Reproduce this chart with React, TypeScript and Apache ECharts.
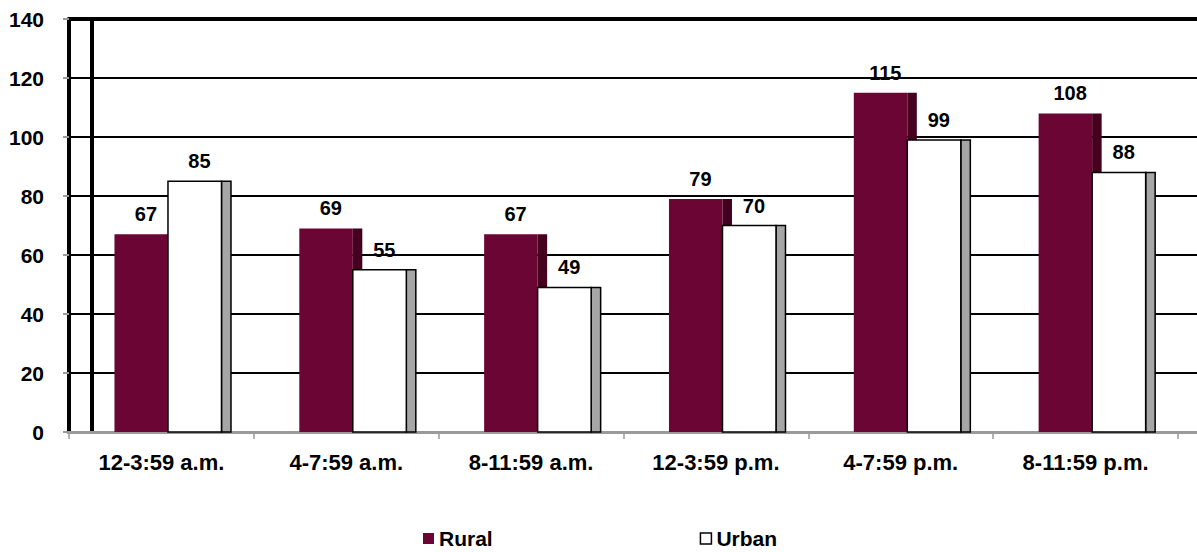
import React, { useEffect, useRef } from "react";
import * as echarts from "echarts";

// Time-of-day buckets and counts per area type
const categories = [
  "12-3:59 a.m.",
  "4-7:59 a.m.",
  "8-11:59 a.m.",
  "12-3:59 p.m.",
  "4-7:59 p.m.",
  "8-11:59 p.m.",
];
const rural = [67, 69, 67, 79, 115, 108];
const urban = [85, 55, 49, 70, 99, 88];
const yTicks = { min: 0, max: 140, interval: 20 };

const FONT = '"Liberation Sans", Arial, sans-serif';
const RURAL_FRONT = "#6a0534";
const RURAL_SIDE = "#45001f";
const URBAN_FRONT = "#ffffff";
const URBAN_SIDE = "#a6a6a6";

// Geometry of a bar relative to the category band width
const BAR_W = 0.2895;
const DEPTH = 0.0514;
const RURAL_OFF = -0.254;
const URBAN_OFF = RURAL_OFF + BAR_W;

function makeRender(offset: number, front: string, side: string, frontStroke: string | null) {
  return (params: any, api: any) => {
    const idx = api.value(0);
    const val = api.value(1);
    const [cx, yTop] = api.coord([idx, val]);
    const [, yBase] = api.coord([idx, 0]);
    const band = api.size([1, 0])[0];
    const bw = band * BAR_W;
    const d = band * DEPTH;
    const x0 = cx + band * offset;
    const h = yBase - yTop;
    return {
      type: "group",
      children: [
        {
          type: "rect",
          shape: { x: x0 + bw, y: yTop, width: d, height: h },
          style: { fill: side, stroke: frontStroke ? "#000" : null, lineWidth: frontStroke ? 1.5 : 0 },
        },
        {
          type: "rect",
          shape: { x: x0, y: yTop, width: bw, height: h },
          style: { fill: front, stroke: frontStroke, lineWidth: frontStroke ? 1.5 : 0 },
        },
        {
          type: "text",
          style: {
            text: String(val),
            x: x0 + (bw + d) / 2,
            y: yTop - 10,
            align: "center",
            verticalAlign: "bottom",
            fill: "#000",
            font: `bold 20px ${FONT}`,
          },
        },
      ],
    };
  };
}

export default function App() {
  const ref = useRef<HTMLDivElement>(null);

  useEffect(() => {
    if (!ref.current) return;
    const chart = echarts.init(ref.current, null, { renderer: "svg" });
    const hidden = { show: false };
    chart.setOption({
      animation: false,
      backgroundColor: "#ffffff",
      textStyle: { fontFamily: FONT },
      legend: {
        left: 423,
        top: 528,
        padding: 0,
        icon: "rect",
        itemWidth: 11,
        itemHeight: 11,
        itemGap: 207,
        textStyle: { fontFamily: FONT, fontWeight: "bold", fontSize: 21, color: "#000" },
        data: [
          { name: "Rural", itemStyle: { color: RURAL_FRONT } },
          { name: "Urban", itemStyle: { color: URBAN_FRONT, borderColor: "#000", borderWidth: 1.5 } },
        ],
      },
      grid: [
        { left: 69, right: 0, top: 19, bottom: 120 },
        { left: 69, right: 19, top: 19, bottom: 120 },
        { left: 92, right: 0, top: 19, bottom: 120 },
      ],
      xAxis: [
        {
          gridIndex: 0,
          type: "value",
          min: 0,
          max: 1,
          position: "bottom",
          axisLine: { show: true, lineStyle: { color: "#9a9a9a", width: 3 } },
          axisTick: hidden,
          axisLabel: hidden,
          splitLine: hidden,
        },
        {
          gridIndex: 0,
          type: "value",
          min: 0,
          max: 1,
          position: "top",
          axisLine: { show: true, lineStyle: { color: "#000", width: 4 } },
          axisTick: hidden,
          axisLabel: hidden,
          splitLine: hidden,
        },
        {
          gridIndex: 1,
          type: "category",
          data: categories,
          axisLine: hidden,
          axisTick: { show: true, length: 7, lineStyle: { color: "#9a9a9a", width: 1.5 } },
          axisLabel: {
            margin: 19,
            fontFamily: FONT,
            fontWeight: "bold",
            fontSize: 22,
            color: "#000",
          },
          splitLine: hidden,
        },
        {
          gridIndex: 2,
          type: "value",
          min: 0,
          max: 1,
          show: false,
        },
      ],
      yAxis: [
        {
          gridIndex: 0,
          type: "value",
          ...yTicks,
          axisLine: { show: true, lineStyle: { color: "#000", width: 4 } },
          axisTick: { show: true, length: 6, lineStyle: { color: "#9a9a9a", width: 2 } },
          axisLabel: {
            margin: 25,
            fontFamily: FONT,
            fontWeight: "bold",
            fontSize: 21,
            color: "#000",
          },
          splitLine: { show: true, lineStyle: { color: "#000", width: 2 } },
        },
        {
          gridIndex: 1,
          type: "value",
          ...yTicks,
          show: false,
        },
        {
          gridIndex: 2,
          type: "value",
          ...yTicks,
          axisLine: { show: true, lineStyle: { color: "#000", width: 4 } },
          axisTick: hidden,
          axisLabel: hidden,
          splitLine: hidden,
        },
      ],
      series: [
        {
          name: "Rural",
          type: "custom",
          xAxisIndex: 2,
          yAxisIndex: 1,
          z: 3,
          itemStyle: { color: RURAL_FRONT },
          renderItem: makeRender(RURAL_OFF, RURAL_FRONT, RURAL_SIDE, null),
          data: rural.map((v, i) => [i, v]),
        },
        {
          name: "Urban",
          type: "custom",
          xAxisIndex: 2,
          yAxisIndex: 1,
          z: 4,
          itemStyle: { color: URBAN_FRONT },
          renderItem: makeRender(URBAN_OFF, URBAN_FRONT, URBAN_SIDE, "#000"),
          data: urban.map((v, i) => [i, v]),
        },
      ],
    });
    return () => chart.dispose();
  }, []);

  return (
    <div
      ref={ref}
      style={{ position: "fixed", left: 0, top: 0, width: 1197, height: 552 }}
    />
  );
}
